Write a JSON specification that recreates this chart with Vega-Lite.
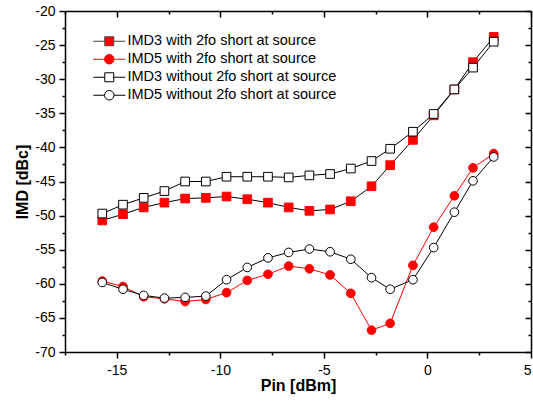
{
  "$schema": "https://vega.github.io/schema/vega-lite/v6.json",
  "width": 466,
  "height": 341,
  "autosize": "none",
  "padding": {"left": 65, "top": 11, "right": 2, "bottom": 55},
  "background": "white",
  "config": {
    "view": {"stroke": null},
    "font": "Liberation Sans",
    "axis": {
      "labelFont": "Liberation Sans", "labelFontSize": 14, "labelColor": "#000000",
      "titleFont": "Liberation Sans", "titleFontSize": 16, "titleFontWeight": "bold", "titleColor": "#000000",
      "domainColor": "#000000", "domainWidth": 1.5, "tickColor": "#000000", "tickWidth": 1.5, "grid": false
    }
  },
  "data": {
    "values": [
      {"s": "IMD3 with 2fo short at source", "x": -15.7, "y": -50.7},
      {"s": "IMD3 with 2fo short at source", "x": -14.7, "y": -49.8},
      {"s": "IMD3 with 2fo short at source", "x": -13.7, "y": -48.8},
      {"s": "IMD3 with 2fo short at source", "x": -12.7, "y": -48.1},
      {"s": "IMD3 with 2fo short at source", "x": -11.7, "y": -47.5},
      {"s": "IMD3 with 2fo short at source", "x": -10.7, "y": -47.4},
      {"s": "IMD3 with 2fo short at source", "x": -9.7, "y": -47.2},
      {"s": "IMD3 with 2fo short at source", "x": -8.7, "y": -47.6},
      {"s": "IMD3 with 2fo short at source", "x": -7.7, "y": -48.1},
      {"s": "IMD3 with 2fo short at source", "x": -6.7, "y": -48.8},
      {"s": "IMD3 with 2fo short at source", "x": -5.7, "y": -49.3},
      {"s": "IMD3 with 2fo short at source", "x": -4.7, "y": -49.1},
      {"s": "IMD3 with 2fo short at source", "x": -3.7, "y": -47.9},
      {"s": "IMD3 with 2fo short at source", "x": -2.7, "y": -45.7},
      {"s": "IMD3 with 2fo short at source", "x": -1.8, "y": -42.6},
      {"s": "IMD3 with 2fo short at source", "x": -0.7, "y": -38.9},
      {"s": "IMD3 with 2fo short at source", "x": 0.3, "y": -35.3},
      {"s": "IMD3 with 2fo short at source", "x": 1.3, "y": -31.5},
      {"s": "IMD3 with 2fo short at source", "x": 2.2, "y": -27.5},
      {"s": "IMD3 with 2fo short at source", "x": 3.2, "y": -23.8},
      {"s": "IMD5 with 2fo short at source", "x": -15.7, "y": -59.6},
      {"s": "IMD5 with 2fo short at source", "x": -14.7, "y": -60.4},
      {"s": "IMD5 with 2fo short at source", "x": -13.7, "y": -61.9},
      {"s": "IMD5 with 2fo short at source", "x": -12.7, "y": -62.2},
      {"s": "IMD5 with 2fo short at source", "x": -11.7, "y": -62.6},
      {"s": "IMD5 with 2fo short at source", "x": -10.7, "y": -62.3},
      {"s": "IMD5 with 2fo short at source", "x": -9.7, "y": -61.3},
      {"s": "IMD5 with 2fo short at source", "x": -8.7, "y": -59.5},
      {"s": "IMD5 with 2fo short at source", "x": -7.7, "y": -58.6},
      {"s": "IMD5 with 2fo short at source", "x": -6.7, "y": -57.4},
      {"s": "IMD5 with 2fo short at source", "x": -5.7, "y": -57.8},
      {"s": "IMD5 with 2fo short at source", "x": -4.7, "y": -58.7},
      {"s": "IMD5 with 2fo short at source", "x": -3.7, "y": -61.4},
      {"s": "IMD5 with 2fo short at source", "x": -2.7, "y": -66.8},
      {"s": "IMD5 with 2fo short at source", "x": -1.8, "y": -65.8},
      {"s": "IMD5 with 2fo short at source", "x": -0.7, "y": -57.3},
      {"s": "IMD5 with 2fo short at source", "x": 0.3, "y": -51.7},
      {"s": "IMD5 with 2fo short at source", "x": 1.3, "y": -47.1},
      {"s": "IMD5 with 2fo short at source", "x": 2.2, "y": -43.0},
      {"s": "IMD5 with 2fo short at source", "x": 3.2, "y": -40.9},
      {"s": "IMD3 without 2fo short at source", "x": -15.7, "y": -49.7},
      {"s": "IMD3 without 2fo short at source", "x": -14.7, "y": -48.4},
      {"s": "IMD3 without 2fo short at source", "x": -13.7, "y": -47.4},
      {"s": "IMD3 without 2fo short at source", "x": -12.7, "y": -46.4},
      {"s": "IMD3 without 2fo short at source", "x": -11.7, "y": -45.0},
      {"s": "IMD3 without 2fo short at source", "x": -10.7, "y": -45.0},
      {"s": "IMD3 without 2fo short at source", "x": -9.7, "y": -44.3},
      {"s": "IMD3 without 2fo short at source", "x": -8.7, "y": -44.3},
      {"s": "IMD3 without 2fo short at source", "x": -7.7, "y": -44.3},
      {"s": "IMD3 without 2fo short at source", "x": -6.7, "y": -44.4},
      {"s": "IMD3 without 2fo short at source", "x": -5.7, "y": -44.1},
      {"s": "IMD3 without 2fo short at source", "x": -4.7, "y": -43.9},
      {"s": "IMD3 without 2fo short at source", "x": -3.7, "y": -43.1},
      {"s": "IMD3 without 2fo short at source", "x": -2.7, "y": -42.0},
      {"s": "IMD3 without 2fo short at source", "x": -1.8, "y": -40.2},
      {"s": "IMD3 without 2fo short at source", "x": -0.7, "y": -37.7},
      {"s": "IMD3 without 2fo short at source", "x": 0.3, "y": -35.1},
      {"s": "IMD3 without 2fo short at source", "x": 1.3, "y": -31.5},
      {"s": "IMD3 without 2fo short at source", "x": 2.2, "y": -28.3},
      {"s": "IMD3 without 2fo short at source", "x": 3.2, "y": -24.5},
      {"s": "IMD5 without 2fo short at source", "x": -15.7, "y": -59.8},
      {"s": "IMD5 without 2fo short at source", "x": -14.7, "y": -60.8},
      {"s": "IMD5 without 2fo short at source", "x": -13.7, "y": -61.7},
      {"s": "IMD5 without 2fo short at source", "x": -12.7, "y": -62.1},
      {"s": "IMD5 without 2fo short at source", "x": -11.7, "y": -62.0},
      {"s": "IMD5 without 2fo short at source", "x": -10.7, "y": -61.8},
      {"s": "IMD5 without 2fo short at source", "x": -9.7, "y": -59.4},
      {"s": "IMD5 without 2fo short at source", "x": -8.7, "y": -57.6},
      {"s": "IMD5 without 2fo short at source", "x": -7.7, "y": -56.2},
      {"s": "IMD5 without 2fo short at source", "x": -6.7, "y": -55.4},
      {"s": "IMD5 without 2fo short at source", "x": -5.7, "y": -54.9},
      {"s": "IMD5 without 2fo short at source", "x": -4.7, "y": -55.3},
      {"s": "IMD5 without 2fo short at source", "x": -3.7, "y": -56.4},
      {"s": "IMD5 without 2fo short at source", "x": -2.7, "y": -59.1},
      {"s": "IMD5 without 2fo short at source", "x": -1.8, "y": -60.8},
      {"s": "IMD5 without 2fo short at source", "x": -0.7, "y": -59.4},
      {"s": "IMD5 without 2fo short at source", "x": 0.3, "y": -54.7},
      {"s": "IMD5 without 2fo short at source", "x": 1.3, "y": -49.5},
      {"s": "IMD5 without 2fo short at source", "x": 2.2, "y": -44.9},
      {"s": "IMD5 without 2fo short at source", "x": 3.2, "y": -41.4}
    ]
  },
  "layer": [
    {
      "mark": {"type": "line", "strokeWidth": 1},
      "encoding": {
        "x": {
          "field": "x", "type": "quantitative",
          "scale": {"domain": [-17.5, 5], "nice": false, "zero": false},
          "axis": {
            "orient": "bottom", "title": "Pin [dBm]",
            "values": [-17.5, -15, -12.5, -10, -7.5, -5, -2.5, 0, 2.5, 5],
            "labelExpr": "datum.value % 5 === 0 ? '' + datum.value : ''",
            "tickSize": {"condition": {"test": "datum.value % 5 === 0", "value": 6}, "value": 3},
            "labelPadding": 5, "titlePadding": 0
          }
        },
        "y": {
          "field": "y", "type": "quantitative",
          "scale": {"domain": [-70, -20], "nice": false, "zero": false},
          "axis": {
            "orient": "left", "title": "IMD [dBc]",
            "values": [-70, -67.5, -65, -62.5, -60, -57.5, -55, -52.5, -50, -47.5, -45, -42.5, -40, -37.5, -35, -32.5, -30, -27.5, -25, -22.5, -20],
            "labelExpr": "datum.value % 5 === 0 ? '' + datum.value : ''",
            "tickSize": {"condition": {"test": "datum.value % 5 === 0", "value": 6}, "value": 3},
            "labelPadding": 4, "titlePadding": 4
          }
        },
        "color": {
          "field": "s", "type": "nominal",
          "scale": {
            "domain": ["IMD3 with 2fo short at source", "IMD3 without 2fo short at source", "IMD5 with 2fo short at source", "IMD5 without 2fo short at source"],
            "range": ["#000000", "#000000", "#ff0000", "#000000"]
          },
          "legend": null
        }
      }
    },
    {
      "mark": {"type": "point", "filled": true, "size": 0, "strokeWidth": 1},
      "encoding": {
        "x": {"field": "x", "type": "quantitative", "axis": null},
        "y": {"field": "y", "type": "quantitative", "axis": null},
        "shape": {
          "field": "s", "type": "nominal",
          "scale": {
            "domain": ["IMD3 with 2fo short at source", "IMD5 with 2fo short at source", "IMD3 without 2fo short at source", "IMD5 without 2fo short at source"],
            "range": [
              "M-3.2,0H-0.9M0.9,0H3.2M-0.9,-0.9H0.9V0.9H-0.9Z",
              "M-3.2,0H-0.95M0.95,0H3.2M-0.95,0A0.95,0.95,0,1,1,0.95,0A0.95,0.95,0,1,1,-0.95,0Z",
              "M-3.2,0H-0.9M0.9,0H3.2M-0.9,-0.9H0.9V0.9H-0.9Z",
              "M-3.2,0H-0.95M0.95,0H3.2M-0.95,0A0.95,0.95,0,1,1,0.95,0A0.95,0.95,0,1,1,-0.95,0Z"
            ]
          },
          "legend": {
            "orient": "none", "legendX": 37, "legendY": 23, "title": null, "padding": 0,
            "symbolSize": 100, "labelOffset": 11, "rowPadding": 3, "labelLimit": 0,
            "labelFont": "Liberation Sans", "labelFontSize": 14.5, "labelColor": "#000000",
            "symbolStrokeWidth": 1, "symbolOpacity": 1
          }
        },
        "fill": {
          "field": "s", "type": "nominal",
          "scale": {
            "domain": ["IMD3 with 2fo short at source", "IMD5 with 2fo short at source", "IMD3 without 2fo short at source", "IMD5 without 2fo short at source"],
            "range": ["#ff0000", "#ff0000", "#ffffff", "#ffffff"]
          },
          "legend": {
            "orient": "none", "legendX": 37, "legendY": 23, "title": null, "padding": 0,
            "symbolSize": 100, "labelOffset": 11, "rowPadding": 3, "labelLimit": 0,
            "labelFont": "Liberation Sans", "labelFontSize": 14.5, "labelColor": "#000000",
            "symbolStrokeWidth": 1, "symbolOpacity": 1
          }
        },
        "stroke": {
          "field": "s", "type": "nominal",
          "scale": {
            "domain": ["IMD3 with 2fo short at source", "IMD5 with 2fo short at source", "IMD3 without 2fo short at source", "IMD5 without 2fo short at source"],
            "range": ["#444444", "#ff0000", "#000000", "#000000"]
          },
          "legend": {
            "orient": "none", "legendX": 37, "legendY": 23, "title": null, "padding": 0,
            "symbolSize": 100, "labelOffset": 11, "rowPadding": 3, "labelLimit": 0,
            "labelFont": "Liberation Sans", "labelFontSize": 14.5, "labelColor": "#000000",
            "symbolStrokeWidth": 1, "symbolOpacity": 1
          }
        }
      }
    },
    {
      "transform": [{"filter": {"field": "s", "equal": "IMD3 with 2fo short at source"}}],
      "mark": {"type": "square", "size": 75, "filled": true, "fill": "#ff0000", "stroke": "#ff0000", "strokeWidth": 1, "opacity": 1},
      "encoding": {
        "x": {
          "field": "x", "type": "quantitative",
          "axis": {
            "orient": "top", "title": null, "labels": false,
            "values": [-17.5, -15, -12.5, -10, -7.5, -5, -2.5, 0, 2.5, 5],
            "tickSize": {"condition": {"test": "datum.value % 5 === 0", "value": -6}, "value": -3}
          }
        },
        "y": {
          "field": "y", "type": "quantitative",
          "axis": {
            "orient": "right", "title": null, "labels": false,
            "values": [-70, -67.5, -65, -62.5, -60, -57.5, -55, -52.5, -50, -47.5, -45, -42.5, -40, -37.5, -35, -32.5, -30, -27.5, -25, -22.5, -20],
            "tickSize": {"condition": {"test": "datum.value % 5 === 0", "value": -6}, "value": -3}
          }
        }
      }
    },
    {
      "transform": [{"filter": {"field": "s", "equal": "IMD5 with 2fo short at source"}}],
      "mark": {"type": "circle", "size": 75, "filled": true, "fill": "#ff0000", "stroke": "#ff0000", "strokeWidth": 1, "opacity": 1},
      "encoding": {
        "x": {"field": "x", "type": "quantitative", "axis": null},
        "y": {"field": "y", "type": "quantitative", "axis": null}
      }
    },
    {
      "transform": [{"filter": {"field": "s", "equal": "IMD3 without 2fo short at source"}}],
      "mark": {"type": "square", "size": 75, "filled": true, "fill": "#ffffff", "stroke": "#000000", "strokeWidth": 1, "opacity": 1},
      "encoding": {
        "x": {"field": "x", "type": "quantitative", "axis": null},
        "y": {"field": "y", "type": "quantitative", "axis": null}
      }
    },
    {
      "transform": [{"filter": {"field": "s", "equal": "IMD5 without 2fo short at source"}}],
      "mark": {"type": "circle", "size": 75, "filled": true, "fill": "#ffffff", "stroke": "#000000", "strokeWidth": 1, "opacity": 1},
      "encoding": {
        "x": {"field": "x", "type": "quantitative", "axis": null},
        "y": {"field": "y", "type": "quantitative", "axis": null}
      }
    }
  ],
  "resolve": {"axis": {"x": "independent", "y": "independent"}}
}
